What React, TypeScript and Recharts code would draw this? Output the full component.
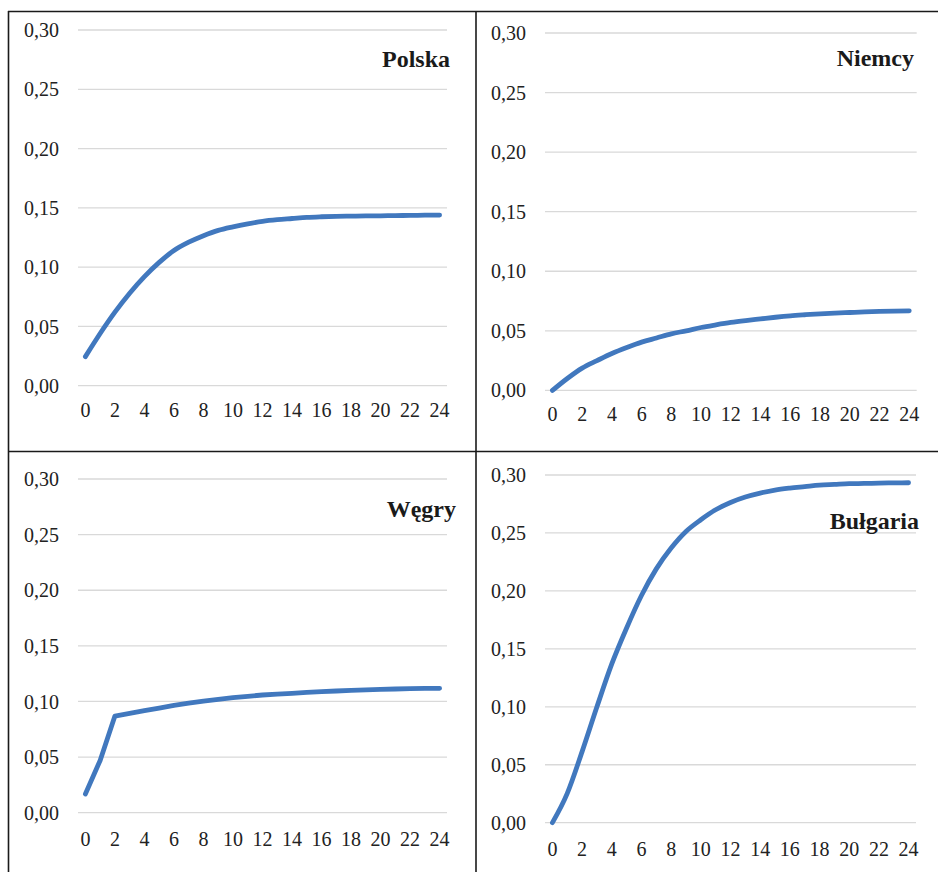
import React from 'react'
import { LineChart, Line, XAxis, YAxis, CartesianGrid } from 'recharts'

// miesiące (kategorie osi X)
const months = [0, 1, 2, 3, 4, 5, 6, 7, 8, 9, 10, 11, 12, 13, 14, 15, 16, 17, 18, 19, 20, 21, 22, 23, 24]
const xTicks = [0, 2, 4, 6, 8, 10, 12, 14, 16, 18, 20, 22, 24]
const yTicks = [0, 0.05, 0.1, 0.15, 0.2, 0.25, 0.3]

const polska = [
  0.0245, 0.044, 0.062, 0.078, 0.092, 0.104, 0.114, 0.121, 0.1265, 0.131, 0.134, 0.1365, 0.1386,
  0.14, 0.141, 0.142, 0.1425, 0.1428, 0.143, 0.1432, 0.1433, 0.1435, 0.1436, 0.1438, 0.1439,
]
const niemcy = [
  0, 0.01, 0.0187, 0.025, 0.031, 0.036, 0.0405, 0.044, 0.0475, 0.05, 0.0528, 0.055, 0.057,
  0.0586, 0.06, 0.0614, 0.0626, 0.0635, 0.0643, 0.0649, 0.0654, 0.0659, 0.0663, 0.0666, 0.0668,
]
const wegry = [
  0.0168, 0.047, 0.0869, 0.0893, 0.0917, 0.0941, 0.0965, 0.0985, 0.1004, 0.1019, 0.1034, 0.1046,
  0.1058, 0.1066, 0.1073, 0.1081, 0.1088, 0.1094, 0.11, 0.1105, 0.1109, 0.1112, 0.1115, 0.1117, 0.1118,
]
const bulgaria = [
  0, 0.0253, 0.0613, 0.1, 0.137, 0.168, 0.196, 0.219, 0.237, 0.2513, 0.2614, 0.27, 0.2763,
  0.281, 0.2844, 0.287, 0.2887, 0.29, 0.2913, 0.2919, 0.2925, 0.2927, 0.293, 0.2932, 0.2933,
]

const LINE = '#4178be'
const FONT = 'Liberation Serif'

const fmt = (v: number) => v.toFixed(2).replace('.', ',')

interface PanelProps {
  values: number[]
  smooth: boolean
  left: number
  top: number
  right: number
  bottom: number
  xMargin: number
}

function Panel({ values, smooth, left, top, right, bottom, xMargin }: PanelProps) {
  const data = months.map((m, i) => ({ x: m, y: values[i] }))
  const yw = 70
  const mt = 20
  const mr = 20
  const xh = 50
  return (
    <div style={{ position: 'absolute', left: left - yw, top: top - mt, fontFamily: FONT }}>
      <LineChart
        width={right - left + yw + mr}
        height={bottom - top + mt + xh}
        data={data}
        margin={{ top: mt, right: mr, left: 0, bottom: 0 }}
      >
        <CartesianGrid vertical={false} stroke="#d9d9d9" strokeWidth={1.3} />
        <XAxis
          dataKey="x"
          type="number"
          domain={[-0.5, 24.5]}
          ticks={xTicks}
          interval={0}
          axisLine={false}
          tickLine={false}
          tickSize={0}
          tickMargin={xMargin}
          height={xh}
          tick={{ fontSize: 20, fill: '#222', fontFamily: FONT }}
        />
        <YAxis
          type="number"
          domain={[0, 0.3]}
          ticks={yTicks}
          interval={0}
          width={yw}
          axisLine={false}
          tickLine={false}
          tickSize={0}
          tickMargin={19}
          tickFormatter={fmt}
          tick={{ fontSize: 20, fill: '#222', fontFamily: FONT }}
        />
        <Line
          type={smooth ? 'monotone' : 'linear'}
          dataKey="y"
          stroke={LINE}
          strokeWidth={4.8}
          strokeLinecap="round"
          strokeLinejoin="round"
          dot={false}
          activeDot={false}
          isAnimationActive={false}
        />
      </LineChart>
    </div>
  )
}

export default function App() {
  return (
    <div style={{ position: 'absolute', left: 0, top: 0, width: 938, height: 872, background: '#fff' }}>
      <Panel values={polska} smooth left={78} top={30} right={447} bottom={385.7} xMargin={17} />
      <Panel values={niemcy} smooth left={545} top={33.3} right={916.7} bottom={390.7} xMargin={16.5} />
      <Panel values={wegry} smooth={false} left={78} top={479} right={447} bottom={812.7} xMargin={19} />
      <Panel values={bulgaria} smooth left={545} top={475} right={916} bottom={822.7} xMargin={19} />
      <svg
        width={938}
        height={872}
        style={{ position: 'absolute', left: 0, top: 0, pointerEvents: 'none' }}
      >
        <line x1={8.5} y1={11} x2={8.5} y2={872} stroke="#1a1a1a" strokeWidth={1.6} />
        <line x1={476} y1={11} x2={476} y2={872} stroke="#1a1a1a" strokeWidth={1.6} />
        <line x1={8} y1={11.5} x2={938} y2={11.5} stroke="#1a1a1a" strokeWidth={1.6} />
        <line x1={8} y1={451.5} x2={938} y2={451.5} stroke="#1a1a1a" strokeWidth={1.6} />
        <g fontFamily={FONT} fontWeight={700} fontSize={24} fill="#1a1a1a" textAnchor="end">
          <text x={450} y={67}>Polska</text>
          <text x={914} y={65.7}>Niemcy</text>
          <text x={456} y={516.7}>Węgry</text>
          <text x={919} y={529.3}>Bułgaria</text>
        </g>
      </svg>
    </div>
  )
}
